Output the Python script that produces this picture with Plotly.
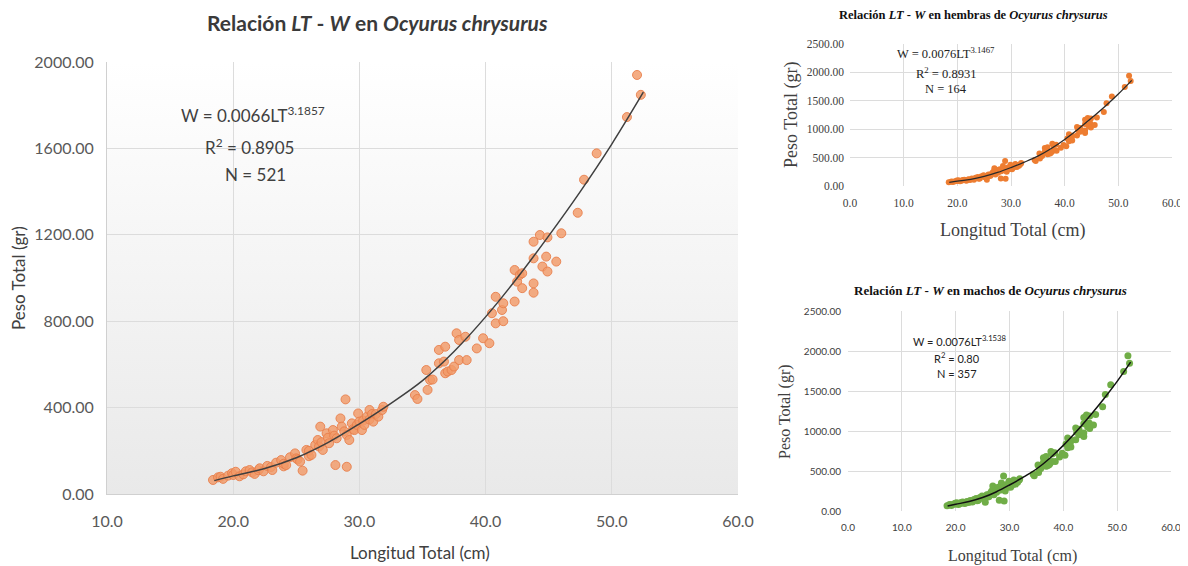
import base64
import plotly.graph_objects as go

# ---------------- data ----------------
lt_low = [18.4, 18.8, 19.0, 19.2, 19.6, 19.9, 20.0, 20.2, 20.5, 20.8, 21.0, 21.3, 21.5, 21.7,
          22.0, 22.1, 22.4, 22.7, 23.0, 23.1, 23.4, 23.8, 24.0, 24.0, 24.2, 24.5, 24.9, 25.0,
          25.1, 25.3, 25.5, 25.8, 26.0, 26.0, 26.2, 26.5, 26.7, 26.8, 26.9, 27.0, 27.1, 27.4,
          27.5, 27.6, 27.9, 28.0, 28.1, 28.2, 28.5, 28.6, 28.8, 28.9, 29.0, 29.0, 29.2, 29.4,
          29.5, 29.6, 29.8, 29.9, 30.0, 30.2, 30.3, 30.4, 30.6, 30.8, 30.8, 31.0, 31.1, 31.3,
          31.5, 31.8, 31.9]
w_low = [65, 77, 80, 70, 85, 96, 88, 103, 82, 91, 105, 111, 100, 93,
         110, 119, 105, 130, 125, 111, 145, 157, 128, 140, 134, 170, 188, 165,
         160, 150, 108, 204, 175, 200, 181, 227, 250, 220, 312, 240, 204, 281,
         260, 235, 296, 270, 134, 258, 350, 312, 290, 438, 126, 273, 250, 327,
         300, 296, 320, 373, 335, 296, 340, 320, 358, 389, 345, 370, 335, 370,
         358, 389, 404]
lt_high = [34.4, 34.6, 35.3, 35.4, 35.6, 35.8, 36.3, 36.3, 36.7, 36.8, 36.8, 37.0, 37.3, 37.5,
           37.7, 37.9, 37.9, 38.4, 38.5, 39.3, 39.8, 40.3, 40.5, 40.8, 40.8, 41.3, 41.4, 41.4,
           42.3, 42.3, 42.5, 42.7, 42.9, 42.9, 43.8, 43.8, 43.8, 43.8, 44.3, 44.5, 44.8, 44.9,
           44.9, 45.6, 46.0, 47.3, 47.8, 48.8, 51.2, 52.0, 52.3]
w_high = [458, 440, 574, 482, 528, 530, 667, 605, 613, 682, 559, 567, 574, 590,
          744, 713, 620, 728, 620, 674, 721, 698, 837, 913, 790, 852, 883, 800,
          1037, 891, 983, 1014, 953, 1022, 1168, 1091, 975, 932, 1199, 1053, 1099, 1188,
          1030, 1076, 1207, 1302, 1455, 1577, 1745, 1940, 1848]
lt_all = lt_low + lt_high
w_all = w_low + w_high

# fitted curves as drawn
curve_lt = [18.5, 20.0, 22.5, 25.0, 27.5, 30.0, 32.5, 35.0, 37.5, 40.0, 42.5, 45.0, 47.5, 50.0, 52.5]
curve_w = [62, 84, 118, 168, 238, 325, 420, 525, 660, 820, 1000, 1195, 1400, 1620, 1860]

x_ticks_main = [10, 20, 30, 40, 50, 60]
y_ticks_main = [0, 400, 800, 1200, 1600, 2000]
x_ticks_small = [0, 10, 20, 30, 40, 50, 60]
y_ticks_small = [0, 500, 1000, 1500, 2000, 2500]

OX, OY = 8, 8  # page body margin
W, H = 1188 - OX, 566 - OY


def px(x):
    return (x - OX) / W


def py(y):
    return 1 - (y - OY) / H


fig = go.Figure()

# main panel
fig.add_trace(go.Scatter(x=lt_all, y=w_all, mode="markers", xaxis="x", yaxis="y",
                         marker=dict(size=9, color="rgba(242,154,104,0.82)",
                                     line=dict(color="rgba(232,128,76,0.9)", width=1)),
                         hoverinfo="skip", showlegend=False))
fig.add_trace(go.Scatter(x=curve_lt, y=curve_w, mode="lines", line_shape="spline", xaxis="x", yaxis="y",
                         line=dict(color="#3f3f3f", width=1.5), hoverinfo="skip", showlegend=False))
# females panel (top right)
fig.add_trace(go.Scatter(x=lt_all, y=w_all, mode="markers", xaxis="x2", yaxis="y2",
                         marker=dict(size=6, color="#ED7D31"), hoverinfo="skip", showlegend=False))
fig.add_trace(go.Scatter(x=curve_lt, y=curve_w, mode="lines", line_shape="spline", xaxis="x2", yaxis="y2",
                         line=dict(color="#2a2a2a", width=1.3), hoverinfo="skip", showlegend=False))
# males panel (bottom right)
fig.add_trace(go.Scatter(x=lt_all, y=w_all, mode="markers", xaxis="x3", yaxis="y3",
                         marker=dict(size=7, color="#70AD47"), hoverinfo="skip", showlegend=False))
fig.add_trace(go.Scatter(x=curve_lt, y=curve_w, mode="lines", line_shape="spline", xaxis="x3", yaxis="y3",
                         line=dict(color="#111111", width=1.5), hoverinfo="skip", showlegend=False))

grid = "#dcdcdc"
sans = "Lato"
serif = "Liberation Serif"

fig.update_layout(
    template="none",
    width=W, height=H, margin=dict(l=0, r=0, t=0, b=0, autoexpand=False),
    paper_bgcolor="white", plot_bgcolor="white",
    xaxis=dict(domain=[px(107), px(738)], anchor="y", range=[10, 60], tickvals=x_ticks_main,
               tickformat=".1f", showgrid=True, gridcolor=grid, gridwidth=1, zeroline=False,
               showline=True, linecolor="#d0d0d0", ticks="", ticklabelstandoff=13, automargin=False,
               tickfont=dict(family=sans, size=16, color="#595959")),
    yaxis=dict(domain=[py(494), py(62)], anchor="x", range=[0, 2000], tickvals=y_ticks_main,
               tickformat=".2f", showgrid=True, gridcolor=grid, gridwidth=1, zeroline=False,
               showline=True, linecolor="#d0d0d0", ticks="", ticklabelstandoff=9, automargin=False,
               tickfont=dict(family=sans, size=16, color="#595959")),
    xaxis2=dict(domain=[px(850), px(1172)], anchor="y2", range=[0, 60], tickvals=x_ticks_small,
                tickformat=".1f", showgrid=True, gridcolor=grid, gridwidth=1, zeroline=False,
                showline=False, ticks="", ticklabelstandoff=8, automargin=False,
                ticklabeloverflow="allow",
                tickfont=dict(family=serif, size=11.5, color="#404040")),
    yaxis2=dict(domain=[py(186), py(44)], anchor="x2", range=[0, 2500], tickvals=y_ticks_small,
                tickformat=".2f", showgrid=True, gridcolor=grid, gridwidth=1, zeroline=False,
                showline=False, ticks="", ticklabelstandoff=5, automargin=False,
                tickfont=dict(family=serif, size=11.5, color="#404040")),
    xaxis3=dict(domain=[px(848), px(1171)], anchor="y3", range=[0, 60], tickvals=x_ticks_small,
                tickformat=".1f", showgrid=True, gridcolor=grid, gridwidth=1, zeroline=False,
                showline=False, ticks="", ticklabelstandoff=9, automargin=False,
                ticklabeloverflow="allow",
                tickfont=dict(family=sans, size=10, color="#404040")),
    yaxis3=dict(domain=[py(511), py(311)], anchor="x3", range=[0, 2500], tickvals=y_ticks_small,
                tickformat=".2f", showgrid=True, gridcolor=grid, gridwidth=1, zeroline=False,
                showline=False, ticks="", ticklabelstandoff=6, automargin=False,
                tickfont=dict(family=sans, size=10, color="#404040")),
)

# gradient background in main plot area
svg = ('<svg xmlns="http://www.w3.org/2000/svg" width="10" height="100" viewBox="0 0 10 100" '
       'preserveAspectRatio="none"><defs><linearGradient id="g" x1="0" y1="0" x2="0" y2="1">'
       '<stop offset="0" stop-color="#ffffff"/><stop offset="1" stop-color="#e9e9e9"/>'
       '</linearGradient></defs><rect width="10" height="100" fill="url(#g)"/></svg>')
src = "data:image/svg+xml;base64," + base64.b64encode(svg.encode()).decode()
fig.add_layout_image(dict(source=src, xref="x domain", yref="y domain", x=0, y=1,
                          sizex=1, sizey=1, sizing="stretch", layer="below",
                          xanchor="left", yanchor="top"))


def ann(text, x, y, size, family, color="#404040", angle=0, bold=False):
    fig.add_annotation(text=(f"<b>{text}</b>" if bold else text), x=px(x), y=py(y),
                       xref="paper", yref="paper", showarrow=False, textangle=angle,
                       xanchor="center", yanchor="middle",
                       font=dict(family=family, size=size, color=color))


# titles
ann("Relación <i>LT</i> - <i>W</i> en <i>Ocyurus chrysurus</i>", 377, 22, 21, sans, "#3a3a3a", bold=True)
ann("Relación <i>LT</i> - <i>W</i> en hembras de <i>Ocyurus chrysurus</i>", 973, 15, 12.5, serif, "#111", bold=True)
ann("Relación <i>LT</i> - <i>W</i> en machos de <i>Ocyurus chrysurus</i>", 990, 290, 13, serif, "#111", bold=True)

# axis titles
ann("Peso Total (gr)", 18, 278, 17, sans, "#404040", angle=-90)
ann("Longitud Total (cm)", 420, 552, 17, sans, "#404040")
ann("Peso Total (gr)", 792, 115, 18, serif, "#404040", angle=-90)
ann("Longitud Total (cm)", 1012, 230, 18, serif, "#404040")
ann("Peso Total (gr)", 785, 412, 16, serif, "#404040", angle=-90)
ann("Longitud Total (cm)", 1012, 556, 16, serif, "#404040")

# equations
ann("W = 0.0066LT<sup>3.1857</sup>", 253, 115, 17, sans, "#404040")
ann("R<sup>2</sup> = 0.8905", 249, 147, 17, sans, "#404040")
ann("N = 521", 255, 174, 17, sans, "#404040")

ann("W = 0.0076LT<sup>3.1467</sup>", 946, 53, 12.5, serif, "#222")
ann("R<sup>2</sup> = 0.8931", 946, 73, 12.5, serif, "#222")
ann("N = 164", 946, 89, 12.5, serif, "#222")

ann("W = 0.0076LT<sup>3.1538</sup>", 960, 340, 11, sans, "#222")
ann("R<sup>2</sup> = 0.80", 957, 357, 11, sans, "#222")
ann("N = 357", 957, 373, 11, sans, "#222")

fig.write_html("out.html")
